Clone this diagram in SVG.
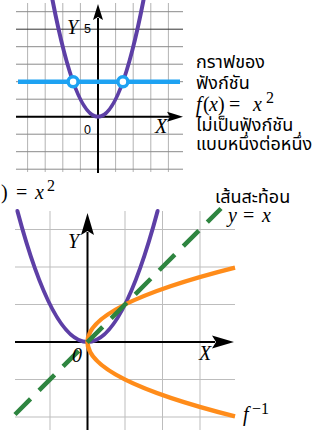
<svg xmlns="http://www.w3.org/2000/svg" width="321" height="436" viewBox="0 0 321 436">
<style>
.gv{stroke:#b3b3b3;stroke-width:1;fill:none}
.gh{stroke:#8a8a8a;stroke-width:1;fill:none}
.gb{stroke:#bdbdbd;stroke-width:1;fill:none}
.ax{stroke:#000;stroke-width:2;fill:none}
.ah{fill:#000}
.par{stroke:#5d3fa6;stroke-width:4;fill:none;stroke-linecap:round}
.blue{stroke:#1ea2f2;stroke-width:4.5;fill:none}
.org{stroke:#ff8c1a;stroke-width:4.5;fill:none}
.grn{stroke:#2e8540;stroke-width:4.5;fill:none;stroke-dasharray:22 12}
.th{font-family:"Noto Sans Thai","Noto Sans","DejaVu Sans",sans-serif;font-size:18px;fill:#000}
.m{font-family:"Liberation Serif","DejaVu Serif",serif;font-size:20px;fill:#000}
.mi{font-style:italic}
.s{font-family:"Liberation Sans","DejaVu Sans",sans-serif;font-size:12.5px;fill:#000}
</style>
<g id="top-graph">
<g id="top-grid">
<path class="gv" d="M27.6,3V172M45.2,3V172M62.8,3V172M80.4,3V172M115.6,3V172M133.2,3V172M150.8,3V172M168.4,3V172"/>
<path class="gh" d="M16,11.7H183M16,46.7H183M16,64.2H183M16,81.7H183M16,99.2H183M16,134.2H183M16,151.7H183M16,169.2H183"/>
<path d="M16,29.2H183" stroke="#333" stroke-width="1"/>
</g>
<g id="top-axes">
<path class="ax" d="M16,116.7H170M98,173V18"/>
<polygon class="ah" points="183,116.7 167,111.7 170,116.7 167,121.7"/>
<polygon class="ah" points="98,4 93,20 98,17 103,20"/>
</g>
<path id="top-parabola" class="par" d="M52.5,0 Q98,233.4 143.5,0"/>
<g id="top-line">
<path class="blue" d="M18,81.7H180"/>
<circle cx="73.1" cy="81.7" r="5" fill="#fff" stroke="#1ea2f2" stroke-width="3.5"/>
<circle cx="122.9" cy="81.7" r="5" fill="#fff" stroke="#1ea2f2" stroke-width="3.5"/>
</g>
<text class="m mi" x="67" y="34.3" font-size="18">Y</text>
<text class="s" x="84" y="33">5</text>
<text class="s" x="84" y="134.3">0</text>
<text class="m mi" x="155" y="132.7" font-size="19">X</text>
</g>
<g id="caption">
<text class="th" x="196" y="68">กราฟของ</text>
<text class="th" x="196" y="89">ฟังก์ชัน</text>
<text class="m" y="111"><tspan class="mi" x="196">f</tspan><tspan x="203">(</tspan><tspan class="mi" x="209">x</tspan><tspan x="218">)</tspan><tspan x="229">=</tspan><tspan class="mi" x="253">x</tspan><tspan x="266" y="103" font-size="16">2</tspan></text>
<text class="th" x="196" y="131">ไม่เป็นฟังก์ชัน</text>
<text class="th" x="196" y="150" font-size="18.5">แบบหนึ่งต่อหนึ่ง</text>
</g>
<g id="bottom-formula">
<text class="m" y="199"><tspan class="mi" x="-24">f</tspan><tspan x="-17">(</tspan><tspan class="mi" x="-11">x</tspan><tspan x="1">)</tspan><tspan x="16">=</tspan><tspan class="mi" x="35">x</tspan><tspan x="47" y="191" font-size="16">2</tspan></text>
</g>
<g id="bottom-graph">
<g id="bottom-grid">
<path class="gb" d="M50,211V430M125,211V430M162.5,211V430M200,211V430M15,229.5H235M15,267H235M15,304.5H235M15,379.5H235M15,417H235"/>
</g>
<g id="bottom-axes">
<path class="ax" d="M15,342H215M87.5,430V232"/>
<polygon class="ah" points="234,342 212,335.5 216,342 212,348.5"/>
<polygon class="ah" points="87.5,213 81,235 87.5,231 94,235"/>
</g>
<path id="bottom-parabola" class="par" d="M17.4,211 Q87.5,473 157.6,211"/>
<path id="inverse" class="org" d="M235,267.6 Q-60,342 235,416.4"/>
<path id="mirror" class="grn" d="M15,414.5L221,208.5"/>
<text class="m mi" x="68" y="248" font-size="22">Y</text>
<text class="m mi" x="199" y="360" font-size="22">X</text>
<text class="m mi" x="72" y="361.5" font-size="16">0</text>
<text class="m" y="421"><tspan class="mi" x="243" font-size="20">f</tspan><tspan x="252" y="414" font-size="16">−1</tspan></text>
<text class="th" x="215" y="203" font-size="16">เส้นสะท้อน</text>
<text class="m" y="222" font-size="17"><tspan class="mi" x="228">y</tspan><tspan x="243">=</tspan><tspan class="mi" x="262">x</tspan></text>
</g>
</svg>
